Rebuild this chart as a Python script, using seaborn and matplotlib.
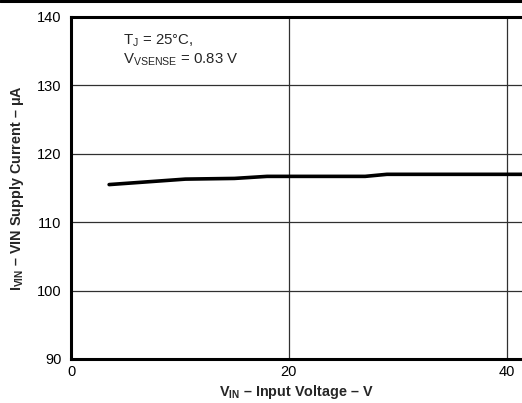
import matplotlib
matplotlib.use("Agg")
import matplotlib.pyplot as plt
from matplotlib.lines import Line2D
import seaborn as sns
import pandas as pd

# Supply current vs input voltage
v_in = [3.5, 10.5, 15.0, 18.0, 27.0, 29.0, 36.0, 42.0]
i_vin = [115.5, 116.3, 116.4, 116.7, 116.7, 117.0, 117.0, 117.0]

x_ticks = [0, 20, 40]
y_ticks = [90, 100, 110, 120, 130, 140]

sns.set_theme(style="white")
plt.rcParams["font.family"] = ["Liberation Sans", "DejaVu Sans"]
plt.rcParams["mathtext.fontset"] = "custom"
plt.rcParams["mathtext.rm"] = "Liberation Sans"
plt.rcParams["mathtext.bf"] = "Liberation Sans:bold"

fig = plt.figure(figsize=(5.22, 4.03), dpi=100)
ax = fig.add_axes([71 / 522, 44 / 403, 1 - 71 / 522, (359 - 17) / 403])

df = pd.DataFrame({"v": v_in, "i": i_vin})
sns.lineplot(data=df, x="v", y="i", ax=ax, color="black", linewidth=2.6)

ax.set_xlim(0, 41.4)
ax.set_ylim(90, 140)
ax.set_xticks(x_ticks)
ax.set_yticks(y_ticks)
ax.grid(True, color="#303030", linewidth=0.9)
ax.set_axisbelow(True)

for side in ("left", "bottom", "top"):
    ax.spines[side].set_visible(True)
    ax.spines[side].set_color("black")
    ax.spines[side].set_linewidth(2.2)
ax.spines["right"].set_visible(False)

ax.tick_params(axis="both", which="both", length=0, labelsize=10.5, colors="black", pad=7)
ax.tick_params(axis="x", pad=4)

ax.set_xlabel(r"V$_\mathbf{IN}$ – Input Voltage – V", fontsize=10.4, fontweight="bold", labelpad=3)
ax.set_ylabel(r"I$_\mathbf{VIN}$ – VIN Supply Current – μA", fontsize=10.4, fontweight="bold", labelpad=8)

ax.text(0.115, 0.93, r"T$_\mathregular{J}$ = 25°C,", transform=ax.transAxes,
        fontsize=10.8, va="center", ha="left")
ax.text(0.115, 0.875, r"V$_\mathregular{VSENSE}$ = 0.83 V", transform=ax.transAxes,
        fontsize=10.8, va="center", ha="left")

# Rule across the top of the page
fig.add_artist(Line2D([0, 1], [0.997, 0.997], transform=fig.transFigure,
                      color="black", linewidth=2.2))

fig.savefig("out.png", dpi=100)
